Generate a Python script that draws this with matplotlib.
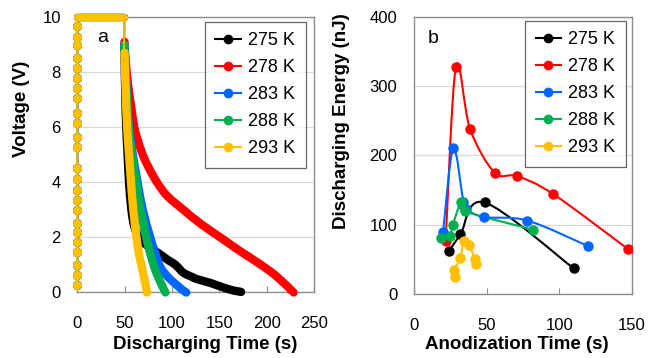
import numpy as np
import matplotlib.pyplot as plt
from matplotlib.path import Path
from matplotlib.patches import PathPatch
from matplotlib.lines import Line2D

plt.rcParams['font.family'] = ['Liberation Sans', 'DejaVu Sans']

kDPI = 100
kColors = ['#000000', '#FF0000', '#0066FF', '#00B050', '#FFC000']
kLabels = ['275 K', '278 K', '283 K', '288 K', '293 K']
kGrid = '#d9d9d9'
kSpine = '#8c8c8c'

# ---- panel a : voltage vs discharging time ----
charge_v = [0.27, 0.63, 0.99, 1.48, 1.84, 2.2, 2.51, 2.99, 3.36, 3.72, 4.11, 4.51,
            5.29, 5.66, 6.15, 6.51, 7.05, 7.42, 7.78, 8.15, 8.51, 8.99, 9.29, 9.66]
hold_t = [0.0, 49.7]
hold_v = [10.0, 10.0]

t_275 = [49.5, 51, 53, 54.5, 57, 60, 65, 72, 80, 86, 92, 97, 103, 108, 111, 116, 120,
         125, 130, 136, 141, 146, 151, 156, 160, 165, 170, 173]
v_275 = [9.0, 6.5, 5.0, 4.0, 3.0, 2.4, 2.0, 1.75, 1.55, 1.42, 1.27, 1.15, 1.02, 0.85, 0.74,
         0.64, 0.58, 0.5, 0.45, 0.39, 0.34, 0.28, 0.22, 0.16, 0.12, 0.07, 0.04, 0.02]
t_278 = [49.7, 50.5, 52, 54, 56.5, 60, 64, 69, 75, 84, 95, 112, 130, 151, 172, 192, 210, 228.5]
v_278 = [9.1, 8.6, 8.0, 7.4, 6.8, 6.0, 5.5, 5.0, 4.55, 4.0, 3.5, 3.0, 2.5, 2.0, 1.5, 1.05, 0.6, 0.0]
t_283 = [49.7, 51.5, 54.5, 58.5, 63.5, 69, 76.5, 82, 88, 96, 104, 110, 115]
v_283 = [9.0, 7.5, 6.0, 5.0, 4.0, 3.0, 2.05, 1.45, 0.9, 0.55, 0.3, 0.12, 0.0]
t_288 = [49.7, 51.5, 54, 57.5, 62, 66.5, 72.7, 77, 82.3, 88, 93]
v_288 = [9.0, 7.5, 6.0, 5.0, 4.0, 3.0, 2.0, 1.4, 0.81, 0.35, 0.0]
t_293 = [49.7, 51, 52.5, 54.5, 56.6, 59, 62.4, 65, 68.8, 71.5, 73.5]
v_293 = [8.7, 7.3, 6.0, 5.0, 4.0, 3.0, 2.0, 1.4, 0.8, 0.35, 0.0]

# ---- panel b : discharging energy vs anodization time ----
anod_275 = [24.3, 32, 48.7, 110]
energy_275 = [62, 86, 132, 37]
anod_278 = [21.8, 28.9, 38.6, 55.6, 71.2, 96, 147.3]
energy_278 = [77, 328, 238, 175, 170, 144, 65]
anod_283 = [20, 27, 34, 35.8, 48, 78, 120]
energy_283 = [89, 210, 133, 123, 111, 106, 69]
anod_288 = [18.5, 24.5, 26.8, 32.4, 35, 82.2]
energy_288 = [81, 84, 100, 133, 119.5, 92.7]
anod_293 = [28.5, 27.6, 31.9, 34.5, 38.1, 42, 42.7]
energy_293 = [24.5, 34, 52, 77, 70, 50, 43]


def SmoothPath(x, y):
  # excel style smoothed line: cubic bezier with 1/6 neighbour tangents
  p = np.column_stack([x, y]).astype(float)
  n = len(p)
  verts = [p[0]]
  codes = [Path.MOVETO]
  for i in range(n - 1):
    p0 = p[i - 1] if i > 0 else p[i]
    p3 = p[i + 2] if i + 2 < n else p[i + 1]
    c1 = p[i] + (p[i + 1] - p0) / 6.0
    c2 = p[i + 1] - (p3 - p[i]) / 6.0
    verts += [c1, c2, p[i + 1]]
    codes += [Path.CURVE4] * 3
  return Path(verts, codes)


def StyleAxes(ax):
  for s in ax.spines.values():
    s.set_color(kSpine)
    s.set_linewidth(1.0)
  ax.yaxis.grid(True, color=kGrid, lw=0.9)
  ax.set_axisbelow(True)
  ax.tick_params(axis='x', direction='in', length=4, color=kSpine, pad=17, labelsize=12)
  ax.tick_params(axis='y', length=0, pad=12, labelsize=12)


def AddLegend(ax, anchor):
  handles = [Line2D([], [], color=c, lw=1.5, marker='o', ms=6) for c in kColors]
  leg = ax.legend(handles, kLabels, loc='upper right', bbox_to_anchor=anchor,
                  borderaxespad=0, fontsize=13, frameon=True, fancybox=False,
                  handlelength=1.4, handletextpad=0.4, labelspacing=0.55,
                  borderpad=0.6, markerscale=1.0)
  leg.get_frame().set_edgecolor('#404040')
  leg.get_frame().set_linewidth(0.9)


fig = plt.figure(figsize=(6.6, 3.58), dpi=kDPI)
ax1 = fig.add_axes([0.1174, 0.183, 0.3583, 0.7696])
ax2 = fig.add_axes([0.6273, 0.1788, 0.3298, 0.7746])

series_a = [(t_275, v_275), (t_278, v_278), (t_283, v_283), (t_288, v_288), (t_293, v_293)]
for (tt, vv), color in zip(series_a, kColors):
  x0 = [0.0] * len(charge_v)
  all_t = x0 + hold_t + tt[:1]
  all_v = charge_v + hold_v + vv[:1]
  ax1.plot(all_t, all_v, color=color, lw=1.2, clip_on=False, zorder=3)
  ax1.plot(x0, charge_v, 'o', color=color, ms=5.5, clip_on=False, zorder=3)
  ax1.plot(hold_t, hold_v, color=color, lw=5.2, solid_capstyle='round', clip_on=False, zorder=3)
  ax1.add_patch(PathPatch(SmoothPath(tt, vv), fill=False, edgecolor=color, lw=6.0,
                          capstyle='round', joinstyle='round', clip_on=False, zorder=3))

ax1.set_xlim(0, 250)
ax1.set_ylim(0, 10)
ax1.set_xticks([0, 50, 100, 150, 200, 250])
ax1.set_yticks([0, 2, 4, 6, 8, 10])
StyleAxes(ax1)
ax1.set_xlabel('Discharging Time (s)', fontsize=13.5, fontweight='bold')
ax1.set_ylabel('Voltage (V)', fontsize=13.5, fontweight='bold')
ax1.xaxis.set_label_coords(0.539, -0.19)
ax1.xaxis.label.set_va('center')
ax1.yaxis.set_label_coords(-0.235, 0.665)
ax1.yaxis.label.set_va('center')
ax1.text(0.108, 0.924, 'a', transform=ax1.transAxes, fontsize=14, ha='center', va='center')
AddLegend(ax1, (0.966, 0.983))

series_b = [(anod_275, energy_275), (anod_278, energy_278), (anod_283, energy_283),
            (anod_288, energy_288), (anod_293, energy_293)]
for (xx, yy), color in zip(series_b, kColors):
  ax2.add_patch(PathPatch(SmoothPath(xx, yy), fill=False, edgecolor=color, lw=1.5, zorder=3))
  ax2.plot(xx, yy, 'o', color=color, ms=6.5, zorder=4)

ax2.set_xlim(0, 150)
ax2.set_ylim(0, 400)
ax2.set_xticks([0, 50, 100, 150])
ax2.set_yticks([0, 100, 200, 300, 400])
StyleAxes(ax2)
ax2.set_xlabel('Anodization Time (s)', fontsize=13.5, fontweight='bold')
ax2.set_ylabel('Discharging Energy (nJ)', fontsize=13.5, fontweight='bold')
ax2.xaxis.set_label_coords(0.473, -0.183)
ax2.xaxis.label.set_va('center')
ax2.yaxis.set_label_coords(-0.332, 0.622)
ax2.yaxis.label.set_va('center')
ax2.text(0.089, 0.922, 'b', transform=ax2.transAxes, fontsize=14, ha='center', va='center')
AddLegend(ax2, (0.974, 0.986))

fig.savefig('out.png', dpi=kDPI)
